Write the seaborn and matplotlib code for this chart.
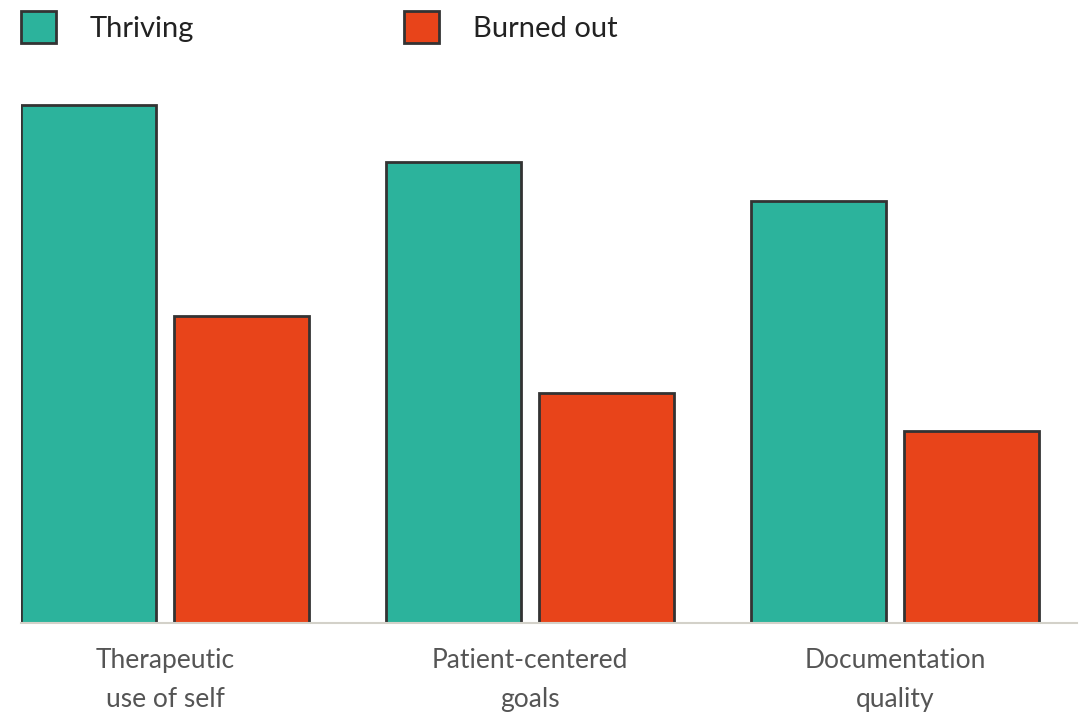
import matplotlib
matplotlib.use("Agg")
import matplotlib.pyplot as plt
import seaborn as sns
import pandas as pd

categories = ["Therapeutic\nuse of self", "Patient-centered\ngoals", "Documentation\nquality"]
groups = ["Thriving", "Burned out"]
thriving = [2.7, 2.4, 2.2]
burned_out = [1.6, 1.2, 1.0]
palette = {"Thriving": "#2CB39C", "Burned out": "#E8441A"}

df = pd.DataFrame({
    "category": categories * 2,
    "group": [groups[0]] * 3 + [groups[1]] * 3,
    "value": thriving + burned_out,
})

sns.set_theme(style="white")
plt.rcParams["font.family"] = ["Lato", "DejaVu Sans"]

W, H = 1081, 712
fig = plt.figure(figsize=(W / 100, H / 100), dpi=100)
ax = fig.add_axes([21 / W, 1 - 623 / H, (1077 - 21) / W, 576 / H])

sns.barplot(data=df, x="category", y="value", hue="group", hue_order=groups,
            palette=palette, width=0.84, gap=0.12, edgecolor="#333333",
            linewidth=2, saturation=1, ax=ax)

ax.set_xlim(-0.3945, 2.4986)
ax.set_ylim(0, 3)
ax.set_xlabel("")
ax.set_ylabel("")
ax.set_yticks([])
for side in ["top", "right", "left"]:
    ax.spines[side].set_visible(False)
ax.spines["bottom"].set_color("#d3d1c9")
ax.spines["bottom"].set_linewidth(1.5)
ax.tick_params(axis="x", length=0, pad=18, labelsize=19, labelcolor="#555555")
for lbl in ax.get_xticklabels():
    lbl.set_linespacing(1.68)

ax.get_legend().remove()
handles, labels = ax.get_legend_handles_labels()
leg = fig.legend(handles, labels, loc="upper left", bbox_to_anchor=(21 / W, 1 - 11 / H),
                 bbox_transform=fig.transFigure, ncol=2, frameon=False, fontsize=21,
                 handlelength=1.2, handleheight=1.3, handletextpad=1.16,
                 columnspacing=7.2, borderaxespad=0, borderpad=0)
for t in leg.get_texts():
    t.set_color("#222222")
for h in leg.legend_handles:
    h.set_edgecolor("#333333")
    h.set_linewidth(2)

fig.savefig("out.png", dpi=100)
